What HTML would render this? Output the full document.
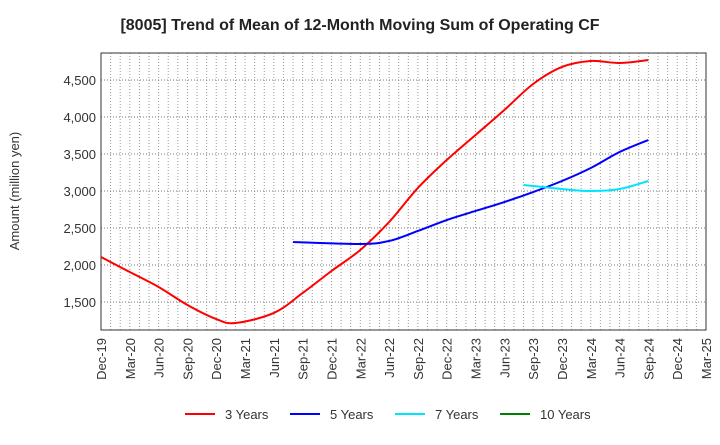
<!DOCTYPE html>
<html><head><meta charset="utf-8"><style>
body{margin:0;background:#fff;font-family:"Liberation Sans",sans-serif}
svg text{font-family:"Liberation Sans",sans-serif}
</style></head><body>
<svg id="c" width="720" height="440">
<text x="360" y="30" text-anchor="middle" font-size="16" font-weight="bold" fill="#222">[8005]  Trend of Mean of 12-Month Moving Sum of Operating CF</text>
<text transform="translate(19,191) rotate(-90)" text-anchor="middle" font-size="13" fill="#333">Amount (million yen)</text>
<g id="grid"></g><g id="axes"></g><g id="series"></g><g id="legend"></g>
</svg>
<script>
const xLabels=["Dec-19","Mar-20","Jun-20","Sep-20","Dec-20","Mar-21","Jun-21","Sep-21","Dec-21","Mar-22","Jun-22","Sep-22","Dec-22","Mar-23","Jun-23","Sep-23","Dec-23","Mar-24","Jun-24","Sep-24","Dec-24","Mar-25"];
const yTicks=[1500,2000,2500,3000,3500,4000,4500];
const s3m=[0,3,6,9,12,14,18,21,24,27,30,33,36,39,42,45,48,51,54,57];
const s3v=[2108,1905,1703,1460,1270,1216,1352,1622,1919,2203,2581,3041,3419,3757,4095,4446,4676,4757,4730,4770];
const s5m=[20,27,30,33,36,39,42,45,48,51,54,57];
const s5v=[2311,2284,2325,2460,2608,2730,2851,2986,3135,3311,3527,3689];
const s7m=[44,45,48,51,54,57];
const s7v=[3081,3068,3027,3000,3027,3135];
const names=["3 Years","5 Years","7 Years","10 Years"];
const colors=["#ff0000","#0000ff","#00e5ff","#008000"];
const L=101,R=706,T=53,B=330;
const xs=m=>L+m*(R-L)/63;
const ys=v=>80+(4500-v)*(222/3000);
const NS="http://www.w3.org/2000/svg";
function mk(p,t,a){const e=document.createElementNS(NS,t);for(const k in a)e.setAttribute(k,a[k]);p.appendChild(e);return e;}
const g=document.getElementById('grid'),ax=document.getElementById('axes'),se=document.getElementById('series'),lg=document.getElementById('legend');
for(let m=1;m<63;m++){const l=mk(g,'line',{x1:xs(m),x2:xs(m),y1:T,y2:B,stroke:'#999','stroke-dasharray':'1,2','stroke-width':1});

}
yTicks.forEach(v=>{const l=mk(g,'line',{x1:L,x2:R,y1:ys(v),y2:ys(v),stroke:'#777','stroke-dasharray':'1,2'});


const t=mk(ax,'text',{x:L-5,y:ys(v)+5,'text-anchor':'end','font-size':13,fill:'#333'});t.textContent=v.toLocaleString('en-US');

});
const fr=mk(ax,'rect',{x:L,y:T,width:R-L,height:B-T,fill:'none',stroke:'#333'});


xLabels.forEach((s,i)=>{const x=xs(i*3);const t=mk(ax,'text',{transform:`translate(${x+5},${B+8}) rotate(-90)`,'text-anchor':'end','font-size':13,fill:'#333'});t.textContent=s;

});
function path(ms,vs){const p=ms.map((m,i)=>[xs(m),ys(vs[i])]);let d=`M${p[0][0]},${p[0][1]}`;
for(let i=0;i<p.length-1;i++){const p0=p[i-1]||p[i],p1=p[i],p2=p[i+1],p3=p[i+2]||p2;
d+=` C${p1[0]+(p2[0]-p0[0])/6},${p1[1]+(p2[1]-p0[1])/6} ${p2[0]-(p3[0]-p1[0])/6},${p2[1]-(p3[1]-p1[1])/6} ${p2[0]},${p2[1]}`;}return d;}
[[s3m,s3v],[s5m,s5v],[s7m,s7v]].forEach((s,i)=>{const e=mk(se,'path',{d:path(s[0],s[1]),fill:'none',stroke:colors[i],'stroke-width':2});

});
names.forEach((n,i)=>{const x0=185+i*105;const l=mk(lg,'line',{x1:x0,x2:x0+30,y1:414,y2:414,stroke:colors[i],'stroke-width':2});


const t=mk(lg,'text',{x:x0+40,y:419,'font-size':13,fill:'#333'});t.textContent=n;

});
</script>
</body></html>
